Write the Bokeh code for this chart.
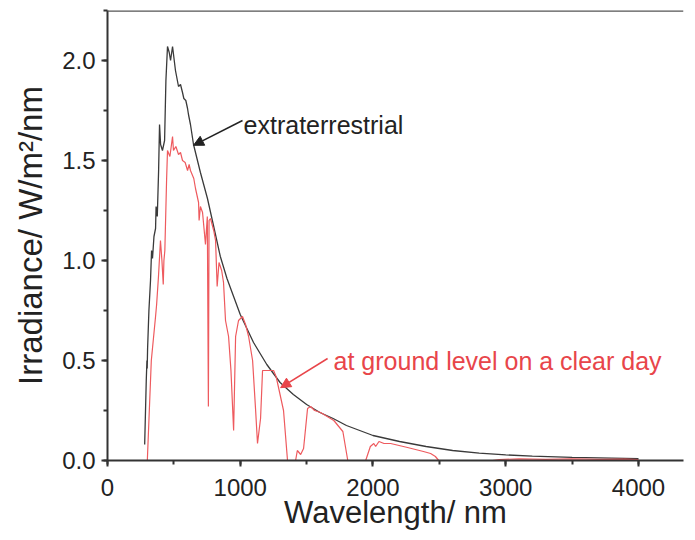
from bokeh.plotting import figure
from bokeh.models import Range1d, Span, Arrow, NormalHead, Label, SingleIntervalTicker
from bokeh.embed import file_html
from bokeh.resources import INLINE

# Extraterrestrial spectrum
ext_wl = [280, 292, 297, 299, 302, 312, 324, 332, 339, 350, 362, 366, 375, 385, 392, 400,
          414, 430, 440, 452, 465, 475, 490, 512, 535, 550, 565, 575, 590, 603, 610, 625,
          648, 700, 753, 800, 850, 900, 950, 1000, 1100, 1200, 1300, 1400, 1500, 1600,
          1700, 1800, 1900, 2000, 2200, 2400, 2600, 2800, 3000, 3200, 3500, 3800, 4000]
ext_irr = [0.08, 0.40, 0.50, 0.46, 0.56, 0.75, 0.90, 1.05, 1.01, 1.12, 1.16, 1.27, 1.22, 1.45,
           1.68, 1.58, 1.55, 1.60, 1.90, 2.07, 2.04, 2.00, 2.07, 1.95, 1.87, 1.88, 1.84, 1.81,
           1.80, 1.76, 1.73, 1.68, 1.58, 1.44, 1.31, 1.17, 1.02, 0.91, 0.82, 0.73, 0.59, 0.48,
           0.39, 0.33, 0.28, 0.24, 0.21, 0.175, 0.15, 0.125, 0.095, 0.07, 0.05, 0.037, 0.028,
           0.022, 0.016, 0.012, 0.009]

# Ground level, clear day
gnd_wl = [300, 330, 362, 370, 384, 399, 410, 420, 425, 432, 445, 452, 470, 490, 497, 515,
          535, 550, 565, 585, 603, 615, 625, 650, 663, 686, 690, 700, 716, 738, 752, 760,
          765, 776, 800, 814, 826, 840, 860, 874, 889, 912, 930, 950, 965, 987, 1017, 1040,
          1063, 1093, 1115, 1130, 1153, 1168, 1205, 1251, 1270, 1290, 1326, 1356, 1417, 1430,
          1455, 1477, 1507, 1530, 1560, 1605, 1705, 1773, 1810, 1945, 1980, 2006, 2020, 2045,
          2083, 2133, 2260, 2380, 2434, 2470, 2495, 2900, 2950, 3100, 3300, 3500, 3700, 3900,
          4000]
gnd_irr = [0.0, 0.50, 0.72, 0.78, 0.92, 1.10, 1.00, 0.88, 1.00, 1.05, 1.40, 1.55, 1.52, 1.62,
           1.55, 1.57, 1.53, 1.54, 1.50, 1.49, 1.45, 1.48, 1.45, 1.41, 1.36, 1.29, 1.20, 1.27,
           1.24, 1.08, 1.22, 0.27, 1.20, 1.21, 1.15, 1.10, 0.87, 0.99, 0.95, 0.89, 0.70, 0.62,
           0.45, 0.15, 0.62, 0.70, 0.72, 0.68, 0.62, 0.50, 0.26, 0.085, 0.21, 0.45, 0.45, 0.45,
           0.42, 0.36, 0.25, 0.0, 0.0, 0.05, 0.03, 0.06, 0.26, 0.27, 0.25, 0.24, 0.20, 0.145,
           0.0, 0.0, 0.07, 0.085, 0.07, 0.095, 0.085, 0.085, 0.065, 0.045, 0.035, 0.02, 0.0,
           0.0, 0.005, 0.008, 0.006, 0.008, 0.006, 0.007, 0.005]

x_ticks = [0, 1000, 2000, 3000, 4000]
y_ticks = [0.0, 0.5, 1.0, 1.5, 2.0]

FONT = "Liberation Sans"
AX = "#333333"
RED = "#e8454a"
RED_LINE = "#ee5a5e"

p = figure(width=687, height=532, output_backend="svg", toolbar_location=None,
           x_range=Range1d(0, 4339), y_range=Range1d(0, 2.25),
           min_border_left=107, min_border_right=4, min_border_top=10, min_border_bottom=70)
p.outline_line_color = None
p.grid.visible = False
p.background_fill_color = "white"

p.line(ext_wl, ext_irr, line_color="#3a3a3a", line_width=1.3)
p.line(gnd_wl, gnd_irr, line_color=RED_LINE, line_width=1.2)

p.add_layout(Span(location=2.25, dimension="width", line_color="#555555", line_width=2.5))

for ax in (p.xaxis[0], p.yaxis[0]):
    ax.axis_line_color = AX
    ax.axis_line_width = 2
    ax.major_tick_line_color = AX
    ax.major_tick_line_width = 2
    ax.minor_tick_line_color = AX
    ax.minor_tick_line_width = 2
    ax.major_tick_out = 6
    ax.major_tick_in = 0
    ax.minor_tick_out = 4
    ax.minor_tick_in = 0
    ax.major_label_text_font = FONT
    ax.major_label_text_font_size = "24px"
    ax.major_label_text_color = "#222222"
    ax.axis_label_text_font = FONT
    ax.axis_label_text_font_style = "normal"
    ax.axis_label_text_color = "#222222"

p.xaxis[0].ticker = SingleIntervalTicker(interval=1000, num_minor_ticks=2)
p.yaxis[0].ticker = SingleIntervalTicker(interval=0.5, num_minor_ticks=2)
p.xaxis[0].major_label_overrides = {v: str(v) for v in x_ticks}
p.yaxis[0].major_label_overrides = {v: f"{v:.1f}" for v in y_ticks}
p.xaxis[0].axis_label = "Wavelength/ nm"
p.yaxis[0].axis_label = "Irradiance/ W/m\u00b2/nm"
p.xaxis[0].axis_label_text_font_size = "31px"
p.yaxis[0].axis_label_text_font_size = "33px"
p.xaxis[0].major_label_standoff = 12
p.yaxis[0].major_label_standoff = 6
p.xaxis[0].axis_label_standoff = -4
p.yaxis[0].axis_label_standoff = 10

p.add_layout(Arrow(end=NormalHead(size=10, fill_color="#222222", line_color="#222222"),
                   x_start=1017, y_start=1.70, x_end=648, y_end=1.576,
                   line_color="#222222", line_width=1.5))
p.add_layout(Label(x=1025, y=1.68, text="extraterrestrial", text_font=FONT,
                   text_font_size="25px", text_color="#222222", text_baseline="middle"))

p.add_layout(Arrow(end=NormalHead(size=10, fill_color=RED, line_color=RED),
                   x_start=1658, y_start=0.51, x_end=1304, y_end=0.364,
                   line_color=RED, line_width=1.5))
p.add_layout(Label(x=1703, y=0.50, text="at ground level on a clear day", text_font=FONT,
                   text_font_size="25px", text_color=RED, text_baseline="middle"))

open("out.html", "w").write(file_html(p, INLINE))
